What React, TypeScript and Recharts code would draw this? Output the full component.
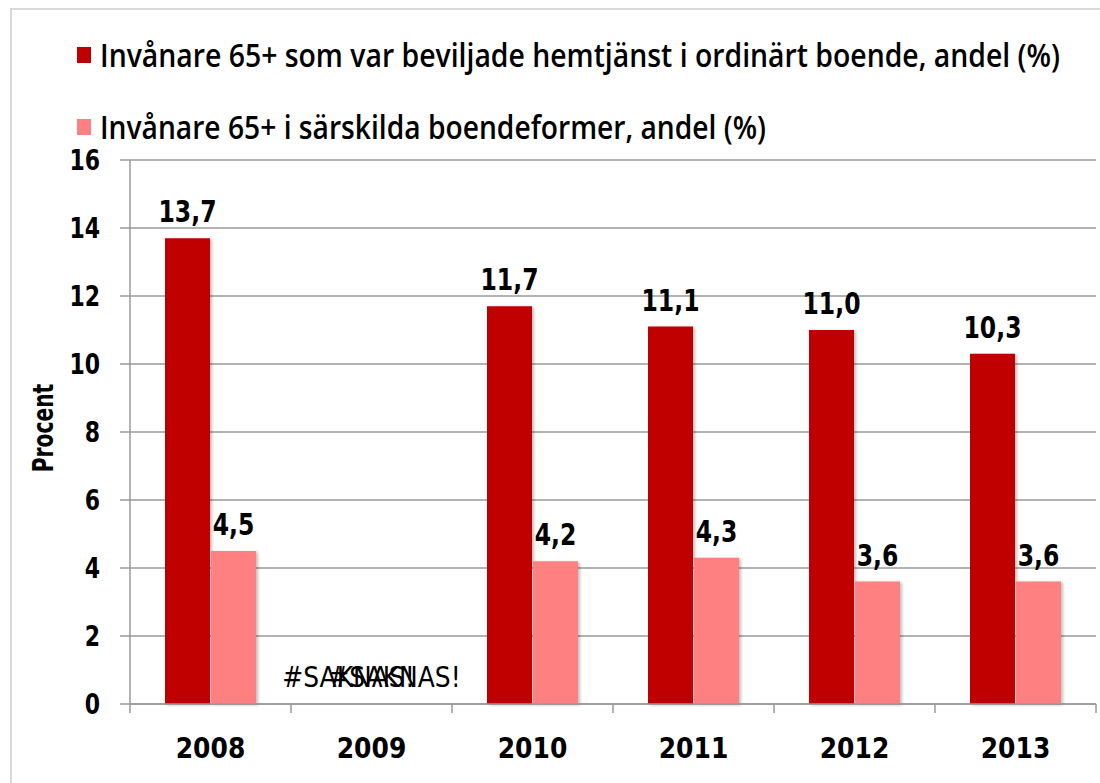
import { BarChart, Bar, XAxis, YAxis, CartesianGrid, LabelList } from "recharts";

// kategorier och serier
const years = ["2008", "2009", "2010", "2011", "2012", "2013"];
const hemtjanst: (number | null)[] = [13.7, null, 11.7, 11.1, 11.0, 10.3];
const sarskilda: (number | null)[] = [4.5, null, 4.2, 4.3, 3.6, 3.6];
const yTicks = [0, 2, 4, 6, 8, 10, 12, 14, 16];

const seriesNames = [
  "Invånare 65+ som var beviljade hemtjänst i ordinärt boende, andel (%)",
  "Invånare 65+ i särskilda boendeformer, andel (%)",
];
const seriesColors = ["#C00000", "#FF8080"];
const missingText = "#SAKNAS!";

const data = years.map((year, i) => ({
  year,
  hem: hemtjanst[i],
  sar: sarskilda[i],
}));

const W = 1100;
const H = 783;
const PLOT_LEFT = 130;
const PLOT_RIGHT = 1096;
const AXIS_Y = 704;
const BAND = (PLOT_RIGHT - PLOT_LEFT) / years.length;
const BAR = 45;
const FONT = "'DejaVu Sans', Verdana, sans-serif";
const GRID = "#9a9a9a";

const fmt = (v: number) => v.toFixed(1).replace(".", ",");

// originalet är lite uttänjt på höjden, så texten sträcks likadant
const Stretched = ({ x, y, sy = 1.25, children, ...rest }: any) => (
  <g transform={`translate(${x},${y}) scale(1,${sy})`}>
    <text x={0} y={0} fill="#000" fontFamily={FONT} {...rest}>
      {children}
    </text>
  </g>
);

const ValueLabel = (props: any) => {
  const { x, y, width, value } = props;
  if (value == null || Number(value) === 0) return null;
  return (
    <Stretched
      x={Number(x) + Number(width) / 2}
      y={Number(y) - 16}
      textAnchor="middle"
      fontWeight="bold"
      fontSize={23.5}
    >
      {fmt(Number(value))}
    </Stretched>
  );
};

const XTick = (props: any) => {
  const { x, payload, index } = props;
  const missing = [hemtjanst[index], sarskilda[index]];
  return (
    <g>
      <line x1={x - BAND / 2} x2={x - BAND / 2} y1={AXIS_Y} y2={AXIS_Y + 9} stroke={GRID} strokeWidth={1.5} />
      {index === years.length - 1 && (
        <line x1={x + BAND / 2} x2={x + BAND / 2} y1={AXIS_Y} y2={AXIS_Y + 9} stroke={GRID} strokeWidth={1.5} />
      )}
      {missing.map((v, k) =>
        v == null ? (
          <Stretched
            key={k}
            x={x + (k === 0 ? -1 : 1) * (BAR / 2 + 0.5)}
            y={AXIS_Y - 17}
            sy={1.1}
            textAnchor="middle"
            fontSize={25}
          >
            {missingText}
          </Stretched>
        ) : null
      )}
      <Stretched
        x={x}
        y={AXIS_Y + 54}
        sy={1.15}
        textAnchor="middle"
        fontWeight="bold"
        fontSize={25}
      >
        {payload.value}
      </Stretched>
    </g>
  );
};

const YTick = (props: any) => {
  const { x, y, payload } = props;
  return (
    <Stretched x={x} y={y + 10} textAnchor="end" fontWeight="bold" fontSize={22}>
      {payload.value}
    </Stretched>
  );
};

const YLabel = (props: any) => {
  const { viewBox } = props;
  const cy = viewBox.y + viewBox.height / 2 - 4;
  return (
    <g transform={`translate(43,${cy}) rotate(-90) scale(0.92,1.3)`}>
      <text
        x={0}
        y={0}
        textAnchor="middle"
        dominantBaseline="central"
        fontFamily={FONT}
        fontWeight="bold"
        fontSize={22}
        fill="#000"
      >
        Procent
      </text>
    </g>
  );
};

const LegendBlock = () => (
  <svg width={W} height={150} style={{ position: "absolute", left: 0, top: 0 }}>
    {seriesNames.map((name, i) => {
      const cy = 55 + i * 72;
      return (
        <g key={name}>
          <rect x={77} y={cy - 8} width={14} height={16} fill={seriesColors[i]} />
          <g transform={`translate(100,${cy + 12}) scale(1,1.18)`}>
            <text
              x={0}
              y={0}
              fontFamily="'Open Sans', sans-serif"
              fontWeight={600}
              fontSize={28}
              fill="#000"
              textLength={i === 0 ? 960 : 666}
              lengthAdjust="spacingAndGlyphs"
            >
              {name}
            </text>
          </g>
        </g>
      );
    })}
  </svg>
);

export default function App() {
  return (
    <div
      style={{
        position: "absolute",
        left: 0,
        top: 0,
        width: W,
        height: H,
        overflow: "hidden",
        background: "#fff",
      }}
    >
      <div
        style={{
          position: "absolute",
          left: 10,
          top: 8,
          width: W,
          height: H,
          borderLeft: "2px solid #d9d9d9",
          borderTop: "2px solid #d9d9d9",
        }}
      />
      <div style={{ position: "absolute", left: 0, top: 0 }}>
        <BarChart
          width={W}
          height={H}
          data={data}
          margin={{ top: 160, right: W - PLOT_RIGHT, bottom: 19, left: 0 }}
          barSize={BAR}
          barGap={1}
        >
          <CartesianGrid vertical={false} stroke={GRID} strokeWidth={1.5} />
          <XAxis
            dataKey="year"
            height={60}
            axisLine={{ stroke: GRID, strokeWidth: 1.5 }}
            tickLine={false}
            tick={<XTick />}
            interval={0}
          />
          <YAxis
            width={PLOT_LEFT}
            domain={[0, 16]}
            ticks={yTicks}
            interval={0}
            tickSize={10}
            tickMargin={20}
            axisLine={{ stroke: GRID, strokeWidth: 1.5 }}
            tickLine={{ stroke: GRID, strokeWidth: 1.5 }}
            tick={<YTick />}
            label={<YLabel />}
          />
          <Bar
            dataKey="hem"
            name={seriesNames[0]}
            fill={seriesColors[0]}
            isAnimationActive={false}
            style={{ filter: "drop-shadow(2px 1px 1.5px rgba(0,0,0,0.25))" }}
          >
            <LabelList dataKey="hem" content={<ValueLabel />} />
          </Bar>
          <Bar
            dataKey="sar"
            name={seriesNames[1]}
            fill={seriesColors[1]}
            isAnimationActive={false}
            style={{ filter: "drop-shadow(2px 1px 1.5px rgba(0,0,0,0.25))" }}
          >
            <LabelList dataKey="sar" content={<ValueLabel />} />
          </Bar>
        </BarChart>
      </div>
      <LegendBlock />
    </div>
  );
}
